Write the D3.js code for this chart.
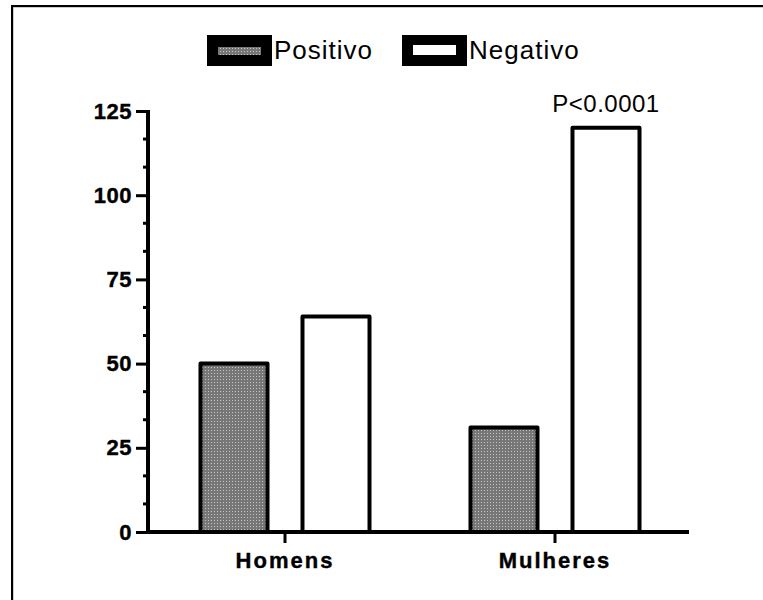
<!DOCTYPE html>
<html>
<head>
<meta charset="utf-8">
<script src="https://cdn.jsdelivr.net/npm/d3@7"></script>
<style>
  body { margin: 0; background: #fff; }
  svg { display: block; }
  text { font-family: "Liberation Sans", Arial, sans-serif; }
</style>
</head>
<body>
<svg id="stage" width="763" height="600"></svg>
<script>
// data
const categories = ["Homens", "Mulheres"];
const seriesNames = ["Positivo", "Negativo"];
const positivo = [50, 31];
const negativo = [64, 120];
const yTicks = [0, 25, 50, 75, 100, 125];
const annotation = "P<0.0001";

const svg = d3.select("#stage");

// frame (clipped by right/bottom edges like the source)
svg.append("rect")
  .attr("x", 13).attr("y", 7)
  .attr("width", 800).attr("height", 700)
  .attr("fill", "none").attr("stroke", "#999").attr("stroke-width", 1);
svg.append("rect")
  .attr("x", 12).attr("y", 6)
  .attr("width", 800).attr("height", 700)
  .attr("fill", "none").attr("stroke", "#000").attr("stroke-width", 2);

// dotted grey fill used for "Positivo"
const defs = svg.append("defs");
const pat = defs.append("pattern")
  .attr("id", "dots")
  .attr("patternUnits", "userSpaceOnUse")
  .attr("width", 3).attr("height", 3);
pat.append("rect").attr("width", 3).attr("height", 3).attr("fill", "#777");
pat.append("rect").attr("x", 1).attr("y", 1).attr("width", 1).attr("height", 1).attr("fill", "#c4c4c4");

const fills = { Positivo: "url(#dots)", Negativo: "#fff" };

const x0 = d3.scaleBand().domain(categories).range([150, 690]).padding(0);
const x1 = d3.scaleBand().domain(seriesNames)
  .range([0, x0.bandwidth()])
  .paddingInner(0.343)
  .paddingOuter(0.495);
const y = d3.scaleLinear().domain([0, 125]).range([532, 111]);

const rows = categories.map((c, i) => ({
  category: c,
  values: [
    { key: "Positivo", value: positivo[i] },
    { key: "Negativo", value: negativo[i] },
  ],
}));

// bars
const groups = svg.selectAll("g.cat")
  .data(rows)
  .enter()
  .append("g")
  .attr("class", "cat")
  .attr("transform", (d) => `translate(${x0(d.category)},0)`);

groups.selectAll("rect")
  .data((d) => d.values)
  .enter()
  .append("rect")
  .attr("x", (d) => x1(d.key))
  .attr("width", x1.bandwidth())
  .attr("y", (d) => y(d.value))
  .attr("height", (d) => y(0) - y(d.value))
  .attr("fill", (d) => fills[d.key])
  .attr("stroke", "#000")
  .attr("stroke-width", 4)
  .attr("stroke-linejoin", "round");

// y axis, minor ticks every 25/3
const minor = d3.range(0, 126, 25 / 3).filter((v) => Math.abs(v % 25) > 0.01 && Math.abs((v % 25) - 25) > 0.01);
svg.append("g").selectAll("line.minor")
  .data(minor)
  .enter()
  .append("line")
  .attr("x1", 143).attr("x2", 150)
  .attr("y1", (d) => y(d)).attr("y2", (d) => y(d))
  .attr("stroke", "#000").attr("stroke-width", 3);

const yAxis = svg.append("g")
  .attr("transform", "translate(148,0)")
  .call(d3.axisLeft(y).tickValues(yTicks).tickSize(12).tickSizeOuter(0).tickPadding(4));
yAxis.select(".domain").attr("stroke-width", 4).attr("d", `M0,${y(125) - 1}V${y(0) + 2}`);
yAxis.selectAll(".tick line").attr("stroke-width", 3);
yAxis.selectAll(".tick text")
  .attr("font-size", 22)
  .attr("font-weight", "bold")
  .attr("letter-spacing", 0.5)
  .attr("fill", "#000")
  .attr("stroke", "#000")
  .attr("stroke-width", 0.4)
  .attr("font-family", '"Liberation Sans", Arial, sans-serif');

// x axis
svg.append("line")
  .attr("x1", 146).attr("x2", 689)
  .attr("y1", y(0)).attr("y2", y(0))
  .attr("stroke", "#000").attr("stroke-width", 4);
const xAxis = svg.append("g")
  .attr("transform", `translate(0,${y(0)})`)
  .call(d3.axisBottom(x0).tickSize(11).tickSizeOuter(0).tickPadding(9));
xAxis.select(".domain").remove();
xAxis.selectAll(".tick line").attr("stroke-width", 3);
xAxis.selectAll(".tick text")
  .attr("font-size", 22)
  .attr("font-weight", "bold")
  .attr("letter-spacing", 2)
  .attr("fill", "#000")
  .attr("stroke", "#000")
  .attr("stroke-width", 0.4)
  .attr("font-family", '"Liberation Sans", Arial, sans-serif');

// significance label over the tall bar
svg.append("text")
  .attr("x", x0("Mulheres") + x1("Negativo") + x1.bandwidth() / 2)
  .attr("y", 112)
  .attr("text-anchor", "middle")
  .attr("font-size", 24)
  .attr("letter-spacing", 0.5)
  .text(annotation);

// legend
const legendX = [207, 402];
const legend = svg.selectAll("g.legend")
  .data(seriesNames)
  .enter()
  .append("g")
  .attr("class", "legend")
  .attr("transform", (d, i) => `translate(${legendX[i]},35)`);
legend.append("rect")
  .attr("width", 65).attr("height", 31)
  .attr("fill", "#000");
legend.append("rect")
  .attr("x", 11)
  .attr("y", (d) => (d === "Positivo" ? 12 : 10))
  .attr("width", 43)
  .attr("height", (d) => (d === "Positivo" ? 8 : 10))
  .attr("fill", (d) => fills[d]);
legend.append("text")
  .attr("x", 67)
  .attr("y", 24)
  .attr("font-size", 26)
  .attr("letter-spacing", 1)
  .text((d) => d);
</script>
</body>
</html>
